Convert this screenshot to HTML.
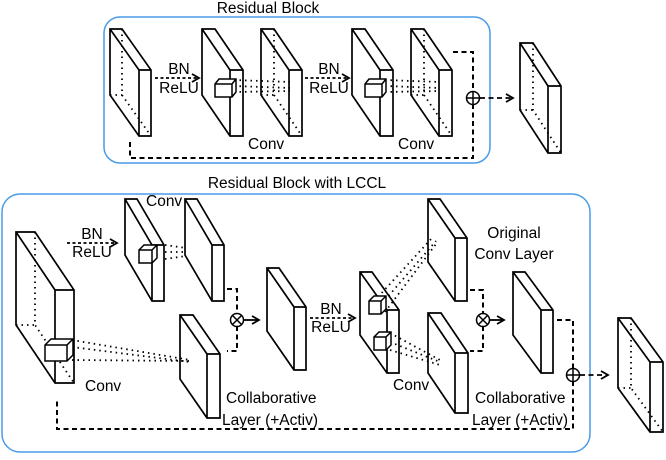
<!DOCTYPE html>
<html><head><meta charset="utf-8"><style>
html,body{margin:0;padding:0;background:#fff;}
svg{display:block;}
text{font-family:"Liberation Sans",Arial,sans-serif;font-size:15.5px;fill:#000;}
</style></head><body>
<svg width="666" height="460" viewBox="0 0 666 460" xmlns="http://www.w3.org/2000/svg">
<defs>
<marker id="ar" markerWidth="10" markerHeight="10" refX="8" refY="5" orient="auto" markerUnits="userSpaceOnUse">
<path d="M1,1 L8,5 L1,9" fill="none" stroke="#000" stroke-width="1.8"/>
</marker>
</defs>
<rect x="104" y="17" width="386" height="146" rx="16" fill="none" stroke="#4a9ce8" stroke-width="1.5"/>
<rect x="2" y="194" width="588" height="258" rx="18" fill="none" stroke="#4a9ce8" stroke-width="1.5"/>
<text x="268" y="13" text-anchor="middle">Residual Block</text>
<text x="297" y="188" text-anchor="middle">Residual Block with LCCL</text>

<g fill="#fff" stroke="#000" stroke-width="1.7" stroke-linejoin="miter">
<path d="M110,29 L122,29 L151,70 L151,136 L139,136 L110,95 Z M110,29 L139,70 L151,70 M139,70 V136"/>
<path d="M202,29 L215,29 L243,70 L243,136 L230,136 L202,95 Z M202,29 L230,70 L243,70 M230,70 V136"/>
<path d="M261,29 L274,29 L302,70 L302,136 L289,136 L261,95 Z M261,29 L289,70 L302,70 M289,70 V136"/>
<path d="M352,29 L365,29 L393,70 L393,136 L380,136 L352,95 Z M352,29 L380,70 L393,70 M380,70 V136"/>
<path d="M411,29 L424,29 L452,70 L452,136 L439,136 L411,95 Z M411,29 L439,70 L452,70 M439,70 V136"/>
<path d="M520,43 L533,43 L561,86 L561,153 L548,153 L520,110 Z M520,43 L548,86 L561,86 M548,86 V153"/>
<path d="M16,232 L35,232 L74,290 L74,383 L55,383 L16,325 Z M16,232 L55,290 L74,290 M55,290 V383"/>
<path d="M125,199 L137,199 L164,245 L164,301 L152,301 L125,255 Z M125,199 L152,245 L164,245 M152,245 V301"/>
<path d="M185,199 L197,199 L224,245 L224,301 L212,301 L185,255 Z M185,199 L212,245 L224,245 M212,245 V301"/>
<path d="M180,315 L193,315 L220,354 L220,418 L207,418 L180,379 Z M180,315 L207,354 L220,354 M207,354 V418"/>
<path d="M267,268 L279,268 L306,307 L306,370 L294,370 L267,331 Z M267,268 L294,307 L306,307 M294,307 V370"/>
<path d="M360,272 L372,272 L399,310 L399,373 L387,373 L360,335 Z M360,272 L387,310 L399,310 M387,310 V373"/>
<path d="M428,199 L440,199 L467,238 L467,301 L455,301 L428,262 Z M428,199 L455,238 L467,238 M455,238 V301"/>
<path d="M428,313 L441,313 L468,353 L468,413 L455,413 L428,373 Z M428,313 L455,353 L468,353 M455,353 V413"/>
<path d="M513,272 L525,272 L553,310 L553,373 L541,373 L513,335 Z M513,272 L541,310 L553,310 M541,310 V373"/>
<path d="M618,318 L631,318 L663,362 L663,432 L650,432 L618,388 Z M618,318 L650,362 L663,362 M650,362 V432"/>
</g>

<g fill="none" stroke="#000" stroke-width="1.8" stroke-dasharray="1.5,4">
<path d="M122,29 V95 L151,136 M110,95 H122"/>
<path d="M274,29 V95 L302,136 M261,95 H274"/>
<path d="M424,29 V95 L452,136 M411,95 H424"/>
<path d="M533,43 V110 L561,153 M520,110 H533"/>
<path d="M35,232 V325 L74,383 M16,325 H35"/>
<path d="M631,318 V388 L663,432 M618,388 H631"/>
<path d="M234,80 L290,82 M234,86 L290,88 M234,92 L290,91"/>
<path d="M385,80 L440,82 M385,86 L440,88 M385,92 L440,91"/>
<path d="M165,245 L186,248 M165,252 L186,252 M165,259 L186,256"/>
<path d="M72,340 L190,360 M72,347 L190,362 M72,360 L190,361"/>
<path d="M378,297 L432,238 M385,300 L436,241 M385,312 L436,244"/>
<path d="M390,333 L440,360 M390,342 L440,362 M390,350 L440,365"/>
</g>

<g fill="#fff" stroke="#000" stroke-width="1.5">
<path d="M215,84 L219,79 L236,79 L236,92 L232,97 L215,97 Z M215,84 H232 V97 M232,84 L236,79"/>
<path d="M365,84 L369,79 L386,79 L386,92 L382,97 L365,97 Z M365,84 H382 V97 M382,84 L386,79"/>
<path d="M139,250 L144,245 L157,245 L157,258 L152,263 L139,263 Z M139,250 H152 V263 M152,250 L157,245"/>
<path d="M45,345 L51,339 L73,339 L73,355 L67,361 L45,361 Z M45,345 H67 V361 M67,345 L73,339"/>
<path d="M369,301 L374,296 L386,296 L386,309 L381,314 L369,314 Z M369,301 H381 V314 M381,301 L386,296"/>
<path d="M374,337 L379,332 L391,332 L391,345 L386,350 L374,350 Z M374,337 H386 V350 M386,337 L391,332"/>
</g>

<g fill="none" stroke="#000" stroke-width="2" stroke-dasharray="5,3.5">
<path d="M453,52 H473 V92"/>
<path d="M473,104 V158 H130 V140"/>
<path d="M227,289 H237 V314"/>
<path d="M237,326 V351 H227"/>
<path d="M470,290 H483 V314"/>
<path d="M483,326 V351 H470"/>
<path d="M557,320 H573 V369"/>
<path d="M573,381 V429 H57 V398"/>
</g>
<g fill="none" stroke="#000" stroke-width="1.8">
<path d="M155,78 H199" stroke-dasharray="3,2.5" marker-end="url(#ar)"/>
<path d="M305,78 H349" stroke-dasharray="3,2.5" marker-end="url(#ar)"/>
<path d="M67,243 H117" stroke-dasharray="3,2.5" marker-end="url(#ar)"/>
<path d="M310,318 H355" stroke-dasharray="3,2.5" marker-end="url(#ar)"/>
<path d="M480,98 H513" stroke-dasharray="5,3.5" marker-end="url(#ar)"/>
<path d="M580,375 H608" stroke-dasharray="5,3.5" marker-end="url(#ar)"/>
<path d="M244,320 H259" marker-end="url(#ar)"/>
<path d="M490,320 H504" marker-end="url(#ar)"/>
</g>
<g fill="#fff" stroke="#000" stroke-width="1.5">
<circle cx="473" cy="98" r="6.5"/><path d="M466.5,98 H479.5 M473,91.5 V104.5"/>
<circle cx="573" cy="375" r="6.5"/><path d="M566.5,375 H579.5 M573,368.5 V381.5"/>
<circle cx="237" cy="320" r="6.5"/><path d="M232.5,315.5 L241.5,324.5 M241.5,315.5 L232.5,324.5"/>
<circle cx="483" cy="320" r="6.5"/><path d="M478.5,315.5 L487.5,324.5 M487.5,315.5 L478.5,324.5"/>
</g>

<text x="179" y="74" text-anchor="middle">BN</text>
<text x="179" y="93" text-anchor="middle">ReLU</text>
<text x="329" y="74" text-anchor="middle">BN</text>
<text x="329" y="93" text-anchor="middle">ReLU</text>
<text x="248" y="149">Conv</text>
<text x="398" y="149">Conv</text>
<text x="92" y="239" text-anchor="middle">BN</text>
<text x="92" y="257" text-anchor="middle">ReLU</text>
<text x="146" y="206">Conv</text>
<text x="85" y="391">Conv</text>
<text x="226" y="403">Collaborative</text>
<text x="222" y="425">Layer (+Activ)</text>
<text x="331" y="314" text-anchor="middle">BN</text>
<text x="331" y="332" text-anchor="middle">ReLU</text>
<text x="514" y="238" text-anchor="middle">Original</text>
<text x="514" y="259" text-anchor="middle">Conv Layer</text>
<text x="393" y="390">Conv</text>
<text x="475" y="403">Collaborative</text>
<text x="472" y="425">Layer (+Activ)</text>
</svg>
</body></html>
